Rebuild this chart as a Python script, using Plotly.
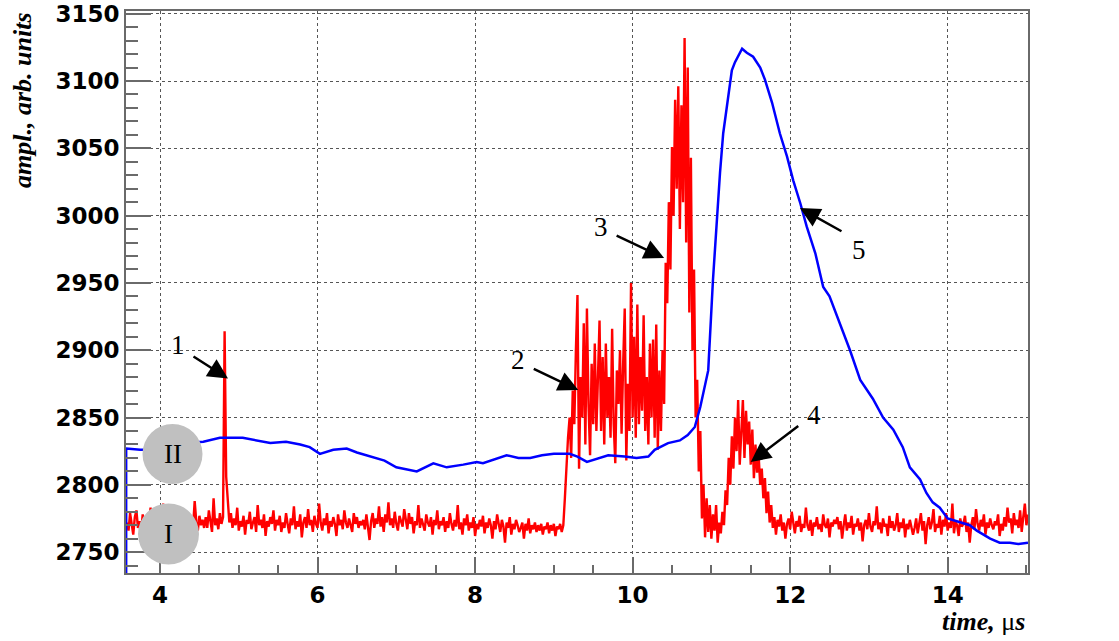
import numpy as np
import plotly.graph_objects as go

# ---- channel I (red): sampled every 20 ns starting at 3.58 us ----
red_t0 = 3.58
red_dt = 0.02
red_vals = [
    # 3.58 - 4.56
    2772, 2766, 2779, 2770, 2763, 2776, 2781, 2768, 2773, 2765,
    2778, 2771, 2760, 2774, 2769, 2783, 2767, 2775, 2770, 2764,
    2777, 2772, 2768, 2786, 2771, 2765, 2774, 2779, 2769, 2762,
    2775, 2770, 2782, 2767, 2773, 2768, 2780, 2764, 2771, 2776,
    2758, 2772, 2769, 2788, 2773, 2766, 2777, 2770, 2774, 2768,
    # 4.58 - 5.56
    2776, 2768, 2781, 2772, 2765, 2790, 2770, 2775, 2767, 2779,
    2771, 2776, 2914, 2806, 2790, 2772, 2779, 2768, 2775, 2770,
    2783, 2766, 2773, 2769, 2777, 2763, 2774, 2771, 2780, 2767,
    2772, 2776, 2765, 2785, 2770, 2774, 2768, 2778, 2762, 2773,
    2769, 2776, 2771, 2781, 2766, 2774, 2770, 2777, 2765, 2772,
    # 5.58 - 6.56
    2768, 2779, 2771, 2764, 2775, 2770, 2784, 2767, 2773, 2769,
    2778, 2761, 2772, 2776, 2768, 2782, 2770, 2774, 2765, 2777,
    2771, 2768, 2786, 2772, 2766, 2775, 2770, 2779, 2764, 2773,
    2769, 2776, 2771, 2762, 2778, 2770, 2774, 2767, 2781, 2772,
    2768, 2775, 2770, 2765, 2779, 2771, 2776, 2768, 2773, 2770,
    # 6.58 - 7.56
    2774, 2767, 2778, 2770, 2759, 2773, 2779, 2768, 2775, 2771,
    2784, 2769, 2776, 2765, 2778, 2772, 2787, 2770, 2775, 2768,
    2780, 2771, 2766, 2777, 2773, 2769, 2782, 2774, 2767, 2779,
    2771, 2776, 2764, 2773, 2770, 2785, 2768, 2775, 2771, 2766,
    2778, 2772, 2769, 2776, 2763, 2774, 2770, 2781, 2767, 2773,
    # 7.58 - 8.56
    2770, 2776, 2765, 2773, 2768, 2779, 2771, 2766, 2774, 2769,
    2785, 2767, 2772, 2763, 2775, 2770, 2778, 2766, 2772, 2768,
    2776, 2762, 2771, 2767, 2774, 2769, 2777, 2764, 2772, 2768,
    2775, 2770, 2760, 2773, 2767, 2778, 2771, 2765, 2774, 2769,
    2757, 2772, 2768, 2776, 2763, 2771, 2767, 2774, 2770, 2765,
    # 8.58 - 9.56
    2768, 2772, 2760, 2771, 2766, 2775, 2764, 2770, 2767, 2772,
    2765, 2770, 2766, 2771, 2763, 2769, 2767, 2772, 2764, 2770,
    2766, 2771, 2762, 2769, 2767, 2771, 2765, 2770, 2790, 2815,
    2835, 2850, 2820, 2870, 2845, 2900, 2941, 2812, 2880, 2850,
    2920, 2830, 2931, 2860, 2822, 2890, 2845, 2905, 2840, 2880,
    # 9.58 - 10.56
    2922, 2840, 2895, 2830, 2905, 2850, 2880, 2835, 2916, 2845,
    2816, 2885, 2860, 2900, 2838, 2890, 2931, 2818, 2875, 2840,
    2950, 2850, 2910, 2835, 2934, 2845, 2895, 2855, 2926, 2840,
    2880, 2830, 2905, 2850, 2908, 2835, 2919, 2826, 2885, 2840,
    2900, 2860, 2965, 2935, 3010, 2960, 3051, 3000, 3086, 3020,
    # 10.58 - 11.56
    3096, 2990, 3082, 3010, 3132, 2980, 3110, 2928, 3043, 2900,
    2960, 2850, 2878, 2810, 2840, 2775, 2800, 2761, 2790, 2765,
    2785, 2760, 2778, 2766, 2785, 2757, 2772, 2764, 2780, 2770,
    2796, 2785, 2820, 2800, 2836, 2812, 2850, 2825, 2863, 2815,
    2840, 2863, 2820, 2855, 2830, 2847, 2815, 2841, 2805, 2830,
    # 11.58 - 12.56
    2809, 2822, 2800, 2812, 2790, 2805, 2779, 2795, 2772, 2785,
    2768, 2776, 2763, 2774, 2769, 2778, 2766, 2772, 2760, 2771,
    2775, 2767, 2780, 2770, 2764, 2773, 2769, 2777, 2765, 2771,
    2768, 2783, 2770, 2766, 2774, 2762, 2772, 2769, 2776, 2767,
    2771, 2765, 2778, 2770, 2768, 2775, 2761, 2772, 2769, 2774,
    # 12.58 - 13.56
    2771, 2776, 2767, 2773, 2760, 2770, 2778, 2766, 2772, 2768,
    2777, 2763, 2771, 2769, 2775, 2766, 2772, 2758, 2770, 2774,
    2767, 2779, 2769, 2765, 2773, 2770, 2784, 2767, 2772, 2764,
    2775, 2769, 2771, 2762, 2777, 2768, 2773, 2766, 2770, 2779,
    2765, 2772, 2768, 2775, 2761, 2771, 2767, 2774, 2769, 2763,
    # 13.58 - 14.56
    2768, 2775, 2764, 2771, 2779, 2766, 2773, 2756, 2770, 2776,
    2767, 2772, 2782, 2765, 2771, 2768, 2777, 2763, 2774, 2769,
    2779, 2766, 2772, 2768, 2786, 2764, 2773, 2770, 2762, 2775,
    2769, 2771, 2777, 2765, 2772, 2757, 2770, 2776, 2767, 2782,
    2771, 2766, 2774, 2769, 2778, 2763, 2772, 2768, 2775, 2770,
    # 14.58 - 15.02
    2767, 2773, 2770, 2778, 2762, 2771, 2766, 2776, 2769, 2783,
    2772, 2775, 2764, 2779, 2770, 2774, 2768, 2781, 2765, 2776,
    2786, 2770, 2778,
]
red_t = red_t0 + red_dt * np.arange(len(red_vals))

# ---- channel II (blue) ----
blue_t = [3.57, 3.57, 3.75, 3.95, 4.1, 4.3, 4.55, 4.76, 5.05, 5.25, 5.4, 5.6,
          5.78, 5.9, 6.03, 6.2, 6.37, 6.5, 6.67, 6.85, 7.0, 7.26, 7.47, 7.64,
          7.85, 8.02, 8.1, 8.25, 8.4, 8.55, 8.7, 8.85, 9.0, 9.2, 9.3, 9.42,
          9.59, 9.69, 9.9, 10.05, 10.2, 10.28, 10.45, 10.6, 10.7, 10.79, 10.86,
          10.92, 10.96, 11.02, 11.07, 11.11, 11.15, 11.21, 11.26, 11.3, 11.39,
          11.45, 11.53, 11.62, 11.68, 11.77, 11.87, 11.96, 12.04, 12.13, 12.21,
          12.32, 12.42, 12.5, 12.63, 12.76, 12.89, 13.05, 13.18, 13.31, 13.43,
          13.52, 13.65, 13.73, 13.81, 13.9, 14.0, 14.16, 14.28, 14.37, 14.54,
          14.66, 14.79, 14.9, 15.02]
blue_vals = [2700, 2827, 2826, 2826, 2828, 2831, 2832, 2835, 2835, 2833, 2831,
             2832, 2830, 2828, 2823, 2826, 2827, 2824, 2821, 2818, 2813, 2810,
             2816, 2813, 2815, 2817, 2816, 2819, 2822, 2820, 2820, 2822, 2823,
             2823, 2821, 2817, 2820, 2822, 2821, 2820, 2821, 2826, 2831, 2833,
             2837, 2843, 2858, 2873, 2885, 2952, 2999, 3032, 3061, 3088, 3108,
             3114, 3124, 3121, 3118, 3110, 3101, 3084, 3061, 3044, 3026, 3009,
             2992, 2972, 2947, 2940, 2920, 2900, 2878, 2864, 2850, 2841, 2828,
             2813, 2804, 2794, 2787, 2783, 2775, 2772, 2770, 2766, 2760, 2757,
             2757, 2756, 2757]

x_range = [3.568, 15.02]
y_range = [2734.5, 3152]

# ---- page geometry ----
W, H = 1119, 641
ML, MR, MT, MB = 126, 91, 11, 68
PW, PH = W - ML - MR, H - MT - MB


def px(p):
    return (p - ML) / PW


def py(p):
    return (H - MB - p) / PH


fig = go.Figure()
fig.add_trace(go.Scatter(x=red_t, y=red_vals, mode="lines",
                         line=dict(color="#ff0000", width=2.4), showlegend=False))
fig.add_trace(go.Scatter(x=blue_t, y=blue_vals, mode="lines",
                         line=dict(color="#0000ff", width=2.5), showlegend=False))

axis_color = "#6a6a6a"
tick_font = dict(family="DejaVu Sans", size=23, color="black", weight="bold")

fig.update_xaxes(range=x_range, automargin=False, showline=True,
                 linecolor=axis_color, linewidth=2,
                 mirror=True, ticks="inside", ticklen=16, tickwidth=1.5,
                 tickcolor=axis_color, dtick=2, tick0=0, tickfont=tick_font,
                 showgrid=True, gridcolor="#555555", griddash="dot", gridwidth=1,
                 zeroline=False,
                 minor=dict(ticks="inside", ticklen=8, dtick=0.5, tick0=0,
                            tickcolor=axis_color, tickwidth=1.5, showgrid=False))
fig.update_yaxes(range=y_range, automargin=False, showline=True,
                 linecolor=axis_color, linewidth=2,
                 mirror=True, ticks="inside", ticklen=25, tickwidth=1.5,
                 tickcolor=axis_color, dtick=50, tick0=0, tickfont=tick_font,
                 showgrid=True, gridcolor="#555555", griddash="dot", gridwidth=1,
                 zeroline=False,
                 minor=dict(ticks="inside", ticklen=12, dtick=10, tick0=0,
                            tickcolor=axis_color, tickwidth=1.5, showgrid=False))

serif = "Liberation Serif"
annotations = [
    dict(text="<b><i>ampl., arb. units</i></b>", x=px(22), y=py(100),
         xref="paper", yref="paper", textangle=-90, showarrow=False,
         xanchor="center", yanchor="middle",
         font=dict(family=serif, size=26, color="black")),
    dict(text="<b><i>time,</i></b> μ<b><i>s</i></b>", x=px(1027), y=py(621),
         xref="paper", yref="paper", showarrow=False, xanchor="right",
         yanchor="middle", font=dict(family=serif, size=26, color="black")),
]

# numbered markers with arrows (tip at data point, tail offset in pixels)
markers = [
    ("1", 4.863, 2879, -36, -23, -14, -10),
    ("2", 9.31, 2870.4, -46, -22, -14, -8),
    ("3", 10.40, 2968.5, -49, -23, -14, -8),
    ("4", 11.50, 2817, 49, -37, 14, -10),
    ("5", 12.125, 3005.6, 43, 24, 16, 18),
]
for label, tx, ty, ax, ay, dx, dy in markers:
    annotations.append(dict(x=tx, y=ty, xref="x", yref="y", ax=ax, ay=ay,
                            axref="pixel", ayref="pixel", text="",
                            showarrow=True, arrowhead=2, arrowsize=1.6,
                            arrowwidth=2.5, arrowcolor="black", standoff=0))
    annotations.append(dict(x=tx, y=ty, xref="x", yref="y", text=label,
                            showarrow=False, xshift=ax + dx, yshift=-(ay + dy),
                            font=dict(family=serif, size=27, color="black")))

# grey round badges marking the two channels
badges = [("II", 172.5, 454, 30), ("I", 168.5, 534, 30.5)]
shapes = []
for lab, cx, cy, r in badges:
    shapes.append(dict(type="circle", xref="paper", yref="paper",
                       x0=px(cx - r), x1=px(cx + r), y0=py(cy + r), y1=py(cy - r),
                       fillcolor="#c0c0c0", line=dict(color="#c0c0c0", width=0),
                       layer="above"))
    annotations.append(dict(text=lab, x=px(cx), y=py(cy), xref="paper",
                            yref="paper", showarrow=False, xanchor="center",
                            yanchor="middle",
                            font=dict(family=serif, size=27, color="black")))

fig.update_layout(width=W, height=H, autosize=False,
                  margin=dict(l=ML, r=MR, t=MT, b=MB, pad=0),
                  paper_bgcolor="white", plot_bgcolor="white",
                  annotations=annotations, shapes=shapes, showlegend=False)

fig.write_html("out.html")
